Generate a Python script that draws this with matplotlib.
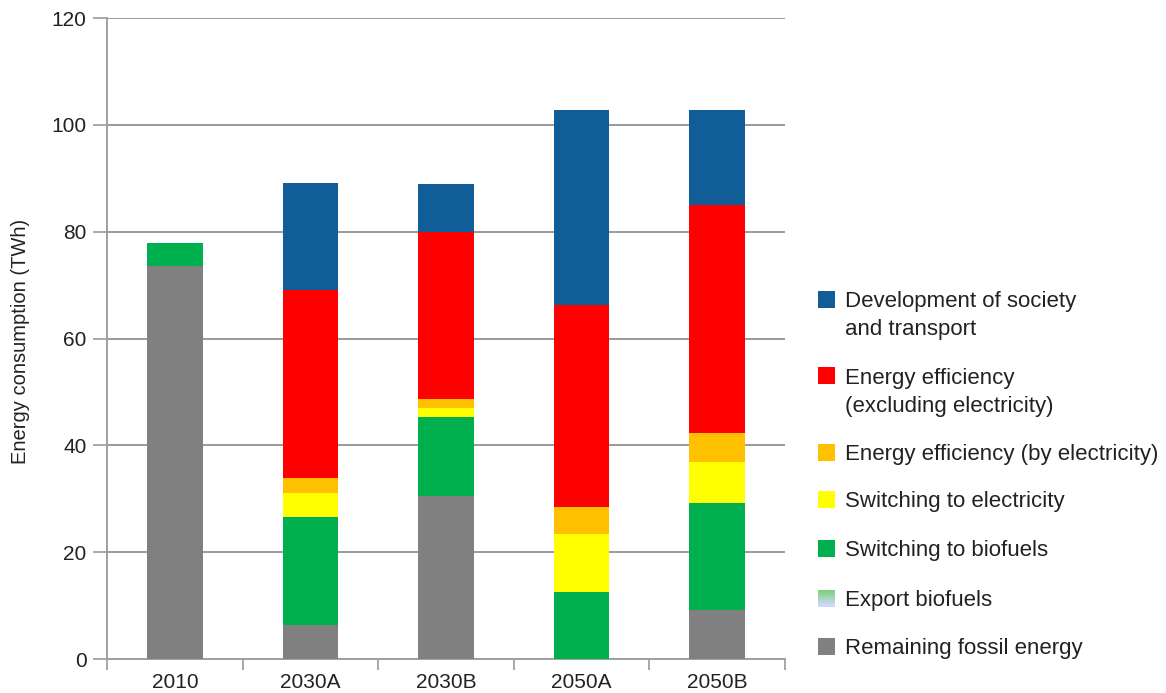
import numpy as np
import matplotlib
matplotlib.use("Agg")
import matplotlib.pyplot as plt
from matplotlib.patches import Rectangle
from matplotlib.colors import to_rgb

plt.rcParams['font.family'] = ['Liberation Sans', 'DejaVu Sans']

# data (TWh)
scenarios = ['2010', '2030A', '2030B', '2050A', '2050B']
fossil = [73.5, 6.3, 30.5, 0.0, 9.2]
export_bio = [0.0, 0.0, 0.0, 0.0, 0.0]
switch_bio = [4.4, 20.2, 14.8, 12.5, 20.1]
switch_el = [0.0, 4.5, 1.7, 11.0, 7.5]
eff_el = [0.0, 2.8, 1.7, 5.0, 5.5]
eff_excl = [0.0, 35.2, 31.2, 37.8, 42.7]
development = [0.0, 20.1, 9.0, 36.4, 17.7]

series = [
    ('Remaining fossil energy', fossil, '#808080'),
    ('Export biofuels', export_bio, '#a8dcc0'),
    ('Switching to biofuels', switch_bio, '#00b04f'),
    ('Switching to electricity', switch_el, '#ffff00'),
    ('Energy efficiency (by electricity)', eff_el, '#ffc000'),
    ('Energy efficiency\n(excluding electricity)', eff_excl, '#ff0000'),
    ('Development of society\nand transport', development, '#105d98'),
]

W, H = 1166, 693
fig = plt.figure(figsize=(W / 100, H / 100), dpi=100)
ax = fig.add_axes([0.092, 0.049, 0.581, 0.925])

x = np.arange(len(scenarios))
bottom = np.zeros(len(scenarios))
for name, vals, col in series:
    ax.bar(x, vals, width=0.41, bottom=bottom, color=col, label=name, zorder=3)
    bottom += np.array(vals)

ax.set_ylim(0, 120)
ax.set_xlim(-0.5, len(scenarios) - 0.5)
ax.set_yticks(np.arange(0, 121, 20))
ax.set_xticks(x)
ax.set_xticklabels(scenarios)
ax.set_xticks(np.arange(-0.5, len(scenarios), 1.0), minor=True)
ax.tick_params(axis='x', which='major', length=0, labelsize=15, pad=10, labelcolor='#222222')
ax.tick_params(axis='x', which='minor', length=8, color='#999999', width=1.2)
ax.tick_params(axis='y', length=10, color='#999999', width=1.2, labelsize=15, pad=5,
               labelcolor='#222222')
ax.yaxis.grid(True, color='#9a9a9a', linewidth=1.4, zorder=0)
ax.set_axisbelow(True)
for s in ['top', 'right']:
    ax.spines[s].set_visible(False)
for s in ['left', 'bottom']:
    ax.spines[s].set_color('#a0a0a0')
    ax.spines[s].set_linewidth(1.4)
ax.set_ylabel('Energy consumption (TWh)', fontsize=14.5, color='#222222')
ax.yaxis.set_label_coords(-0.114, 0.495)

# legend drawn by hand so the swatch sits on the first text line
row_px = [646, 598, 548, 499, 452, 376, 299]  # caps centre of first line, from top
box = 17
line_gap = 28
for (name, vals, col), yp in zip(series, row_px):
    x0 = 818 / W
    y0 = 1 - (yp + box / 2) / H
    if name == 'Export biofuels':
        c1, c2 = np.array(to_rgb('#7fd07f')), np.array(to_rgb('#cdd9f7'))
        n = 8
        for i in range(n):
            c = c1 + (c2 - c1) * i / (n - 1)
            fig.add_artist(Rectangle((x0, 1 - (yp - box / 2 + (i + 1) * box / n) / H),
                                     box / W, box / n / H, transform=fig.transFigure,
                                     facecolor=c, edgecolor='none'))
    else:
        fig.add_artist(Rectangle((x0, y0), box / W, box / H, transform=fig.transFigure,
                                 facecolor=col, edgecolor='none'))
    for i, line in enumerate(name.split('\n')):
        fig.text(845 / W, 1 - (yp + 8 + i * line_gap) / H, line, fontsize=16,
                 color='#222222', va='baseline', ha='left')

fig.savefig('out.png', dpi=100)
